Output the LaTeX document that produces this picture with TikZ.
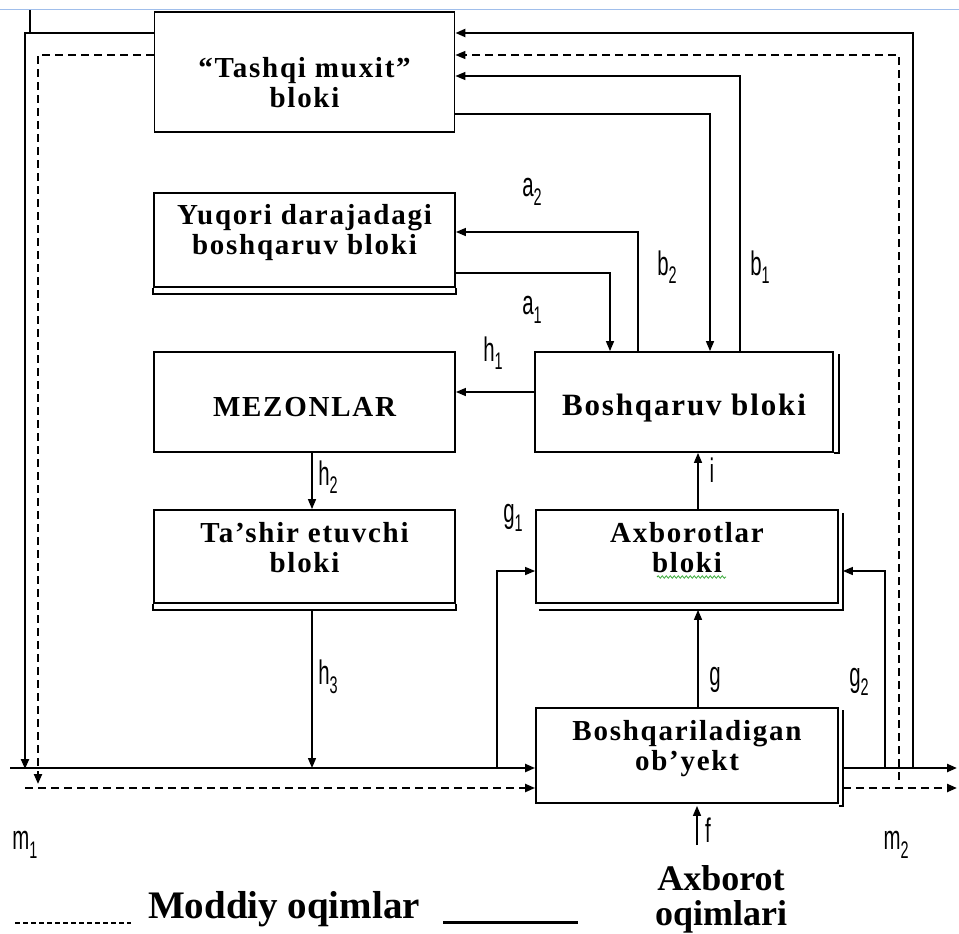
\documentclass[tikz,border=0pt]{standalone}
\usepackage{fontspec}
\usepackage{graphicx}
\setmainfont{Liberation Serif}
\newfontfamily\boxfont[LetterSpace=6]{Liberation Serif}
\newfontfamily\labfont{Liberation Sans}
\usetikzlibrary{arrows.meta,decorations.pathmorphing,calc}
\newcommand\lbl[2]{\scalebox{0.6}[1]{\fontsize{34}{34}\selectfont\labfont #1\raisebox{-0.25em}{\fontsize{24}{24}\selectfont #2}}}
\newcommand\lblone[1]{\scalebox{0.6}[1]{\fontsize{34}{34}\selectfont\labfont #1}}
\begin{document}
\begin{tikzpicture}[x=1pt,y=-1pt,
  blk/.style={draw, line width=1.8pt, fill=white, inner sep=0pt},
  btxt/.style={font={\boxfont\bfseries\fontsize{29}{30}\selectfont}, align=center, inner sep=0pt},
  shd/.style={line width=1.6pt},
  conn/.style={line width=1.4pt},
  mainln/.style={line width=2.2pt},
  arr/.style={-{Triangle[length=10pt,width=8pt]}},
  dsh/.style={dash pattern=on 8pt off 5pt},
  lab/.style={inner sep=0pt},
  leg/.style={font={\bfseries\fontsize{39}{31}\selectfont}, inner sep=0pt, anchor=base},
  legb/.style={font={\bfseries\fontsize{36}{31}\selectfont}, inner sep=0pt, anchor=base}]
\useasboundingbox (0,0) rectangle (959,934);
% page artefact line
\draw[color={rgb,255:red,160;green,190;blue,235}, line width=1pt] (0,10) -- (959,10);

% blocks
\node[blk, minimum width=300pt, minimum height=120pt] (tash) at (304.5,72) {};
\node[blk, minimum width=301pt, minimum height=94pt] (yuq) at (304.5,240) {};
\node[blk, minimum width=301pt, minimum height=100pt] (mez) at (304.5,402) {};
\node[blk, minimum width=301pt, minimum height=93pt] (tas) at (304.5,556.5) {};
\node[blk, minimum width=298pt, minimum height=100pt] (bos) at (684,402) {};
\node[blk, minimum width=302pt, minimum height=93pt] (axb) at (687,556.5) {};
\node[blk, minimum width=302pt, minimum height=95pt] (obj) at (687,755.5) {};

% shadows
\draw[shd] (yuq.south west) -- ([shift={(0,6)}]yuq.south west) -- ([shift={(0,6)}]yuq.south east) -- (yuq.south east);
\draw[shd] (tas.south west) -- ([shift={(0,6)}]tas.south west) -- ([shift={(0,6)}]tas.south east) -- (tas.south east);
\draw[shd] ([shift={(4,4)}]axb.north east) -- ([shift={(4,6)}]axb.south east) -- ([shift={(4,6)}]axb.south west);
\draw[shd] ([shift={(5,3)}]bos.north east) -- ([shift={(5,0)}]bos.south east) -- (bos.south east);
\draw[shd] ([shift={(4,3)}]obj.north east) -- ([shift={(4,2)}]obj.south east) -- ([shift={(0,2)}]obj.south east);

% block texts
\node[btxt] (tashT) at (304.5,83) {“Tashqi muxit”\\bloki};
\node[btxt] (yuqT) at (304.5,233) {Yuqori darajadagi\\boshqaruv bloki};
\node[btxt] (mezT) at (304.5,407) {MEZONLAR};
\node[btxt, font={\boxfont\bfseries\fontsize{31}{30}\selectfont}] (bosT) at (684,408) {Boshqaruv bloki};
\node[btxt] (tasT) at (304.5,548) {Ta’shir etuvchi\\bloki};
\node[btxt] (axbT) at (687,548) {Axborotlar\\ bloki};
\node[btxt] (objT) at (687,749) {Boshqariladigan\\ob’yekt};
\draw[color={rgb,255:red,60;green,170;blue,60}, line width=0.8pt, decorate, decoration={snake, amplitude=1.2pt, segment length=4pt}] (657,577) -- (726,577);

% coordinates for routing
\coordinate (mainL) at (10,768);
\coordinate (mainR) at (957,768);
\coordinate (dashL) at (25,788);
\coordinate (dashR) at (957,788);
\coordinate (c1) at (25,33);
\coordinate (c2) at (38,55);
\coordinate (c3) at (913,33);
\coordinate (c4) at (899,55);
\coordinate (c5) at (740,76);
\coordinate (c6) at (710,114);
\coordinate (c7) at (638,232);
\coordinate (c8) at (610,273);
\coordinate (c9) at (500,392);
\coordinate (c10) at (312,480);
\coordinate (c11) at (497,571);
\coordinate (c12) at (885,571);
\coordinate (c13) at (698,650);
\coordinate (c14) at (697,845);
\coordinate (stubT) at (30,10);
\coordinate (stubB) at (30,33);

% main material / information flows
\draw[mainln, arr] (mainL) -- (mainL -| obj.west);
\draw[mainln, arr] ([xshift=4pt]mainL -| obj.east) -- (mainR);
\draw[mainln, dsh, arr] (dashL) -- (dashL -| obj.west);
\draw[mainln, dsh, arr] ([xshift=4pt]dashL -| obj.east) -- (dashR);

% outer loops
\draw[mainln] (stubT) -- (stubB);
\draw[mainln, arr] (c1 -| tash.west) -- (c1) -- ([yshift=-1pt]c1 |- mainL);
\draw[mainln, dsh, arr] (c2 -| tash.west) -- (c2) -- ([yshift=4pt]c2 |- dashL);
\draw[mainln, arr] (c3 |- mainL) -- (c3) -- (c3 -| tash.east);
\draw[conn, dsh, arr] ([yshift=8pt]c4 |- dashL) -- (c4) -- (c4 -| tash.east);

% b1, b2
\draw[conn, arr] (c5 |- bos.north) -- (c5) -- (c5 -| tash.east);
\draw[conn, arr] (c6 -| tash.east) -- (c6) -- (c6 |- bos.north);
% a1, a2
\draw[conn, arr] (c7 |- bos.north) -- (c7) -- (c7 -| yuq.east);
\draw[conn, arr] (c8 -| yuq.east) -- (c8) -- (c8 |- bos.north);
% h1, h2, h3
\draw[conn, arr] (bos.west |- c9) -- (mez.east |- c9);
\draw[conn, arr] (mez.south -| c10) -- (tas.north -| c10);
\draw[conn, arr] ([yshift=-6pt]tas.south -| c10) -- (c10 |- mainL);
% g1, g2, g, i, f
\draw[conn, arr] (c11 |- mainL) -- (c11) -- (c11 -| axb.west);
\draw[conn, arr] (c12 |- mainL) -- (c12) -- ([xshift=4pt]c12 -| axb.east);
\draw[conn, arr] (obj.north -| c13) -- ([yshift=-6pt]axb.south -| c13);
\draw[conn, arr] (axb.north -| c13) -- (bos.south -| c13);
\draw[conn, arr] (c14) -- ([yshift=-2pt]obj.south -| c14);

% labels
\node[lab] (la2) at (532,192) {\lbl{a}{2}};
\node[lab] (lb2) at (667,267) {\lbl{b}{2}};
\node[lab] (lb1) at (760,267) {\lbl{b}{1}};
\node[lab] (la1) at (532,310) {\lbl{a}{1}};
\node[lab] (lh1) at (493,353) {\lbl{h}{1}};
\node[lab] (lh2) at (328,477) {\lbl{h}{2}};
\node[lab] (lh3) at (328,677) {\lbl{h}{3}};
\node[lab] (lg1) at (513,518) {\lbl{g}{1}};
\node[lab] (li) at (712,470) {\lblone{i}};
\node[lab] (lg) at (715,680) {\lblone{g}};
\node[lab] (lg2) at (859,682) {\lbl{g}{2}};
\node[lab] (lm1) at (25,845) {\lbl{m}{1}};
\node[lab] (lm2) at (896,845) {\lbl{m}{2}};
\node[lab] (lf) at (708,830) {\lblone{f}};

% legend
\coordinate (legD1) at (15,923);
\coordinate (legD2) at (131,923);
\coordinate (legS1) at (443,922);
\coordinate (legS2) at (578,922);
\draw[mainln, dash pattern=on 5pt off 3pt] (legD1) -- (legD2);
\draw[line width=3pt] (legS1) -- (legS2);
\node[leg] (legM) at (284,918) {Moddiy oqimlar};
\node[legb] (legA1) at (721,890) {Axborot};
\node[legb] (legA2) at (721,925) {oqimlari};
\end{tikzpicture}
\end{document}
